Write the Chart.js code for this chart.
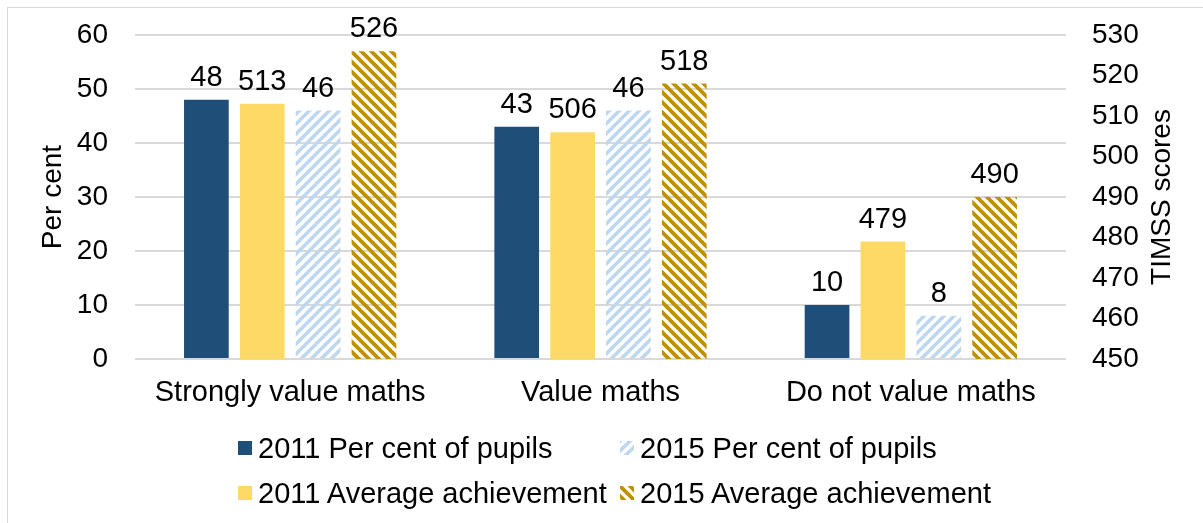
<!DOCTYPE html>
<html>
<head>
<meta charset="utf-8">
<script src="https://cdn.jsdelivr.net/npm/chart.js@4.4.1/dist/chart.umd.min.js"></script>
<style>
  html, body { margin: 0; padding: 0; background: #fff; overflow: hidden; }
  #wrap { position: relative; width: 1203px; height: 523px; }
  #frame { position: absolute; left: 7px; top: 7px; width: 1300px; height: 700px; border: 1px solid #d9d9d9; box-sizing: border-box; }
  #c { position: absolute; left: 0; top: 0; }
  .leg { position: absolute; font: 29px "Liberation Sans", Arial, sans-serif; color: #000; white-space: nowrap; display: flex; align-items: center; }
  .leg canvas { margin-right: 6px; }
</style>
</head>
<body>
<div id="wrap">
  <div id="frame"></div>
  <canvas id="c" width="1203" height="523"></canvas>
  <div id="legend"></div>
</div>
<script>
const categorias = ['Strongly value maths', 'Value maths', 'Do not value maths'];
const pct2011 = [48, 43, 10];
const media2011 = [513, 506, 479];
const pct2015 = [46, 46, 8];
const media2015 = [526, 518, 490];

const FONTE = '"Liberation Sans", Arial, sans-serif';

// listras diagonais
function listras(cor, sobe, espessura) {
    const t = 10;
    const c = document.createElement('canvas');
    c.width = t; c.height = t;
    const g = c.getContext('2d');
    g.strokeStyle = cor;
    g.lineWidth = espessura;
    g.beginPath();
    for (let k = -1; k <= 1; k++) {
        if (sobe) {
            g.moveTo(k * t - 1, t + 1); g.lineTo(k * t + t + 1, -1);
        } else {
            g.moveTo(k * t - 1, -1); g.lineTo(k * t + t + 1, t + 1);
        }
    }
    g.stroke();
    return g.createPattern(c, 'repeat');
}

const ctx = document.getElementById('c').getContext('2d');
const azulClaro = listras('#bdd7ee', true, 3.6);
const dourado = listras('#bf9000', false, 3.8);

const series = [
    { label: '2011 Per cent of pupils', data: pct2011, backgroundColor: '#1f4e79', yAxisID: 'y' },
    { label: '2011 Average achievement', data: media2011, backgroundColor: '#ffd966', yAxisID: 'y2' },
    { label: '2015 Per cent of pupils', data: pct2015, backgroundColor: azulClaro, yAxisID: 'y' },
    { label: '2015 Average achievement', data: media2015, backgroundColor: dourado, yAxisID: 'y2' }
];

const rotulos = {
    id: 'rotulos',
    afterDatasetsDraw(chart) {
        const c = chart.ctx;
        c.save();
        c.font = '29px ' + FONTE;
        c.fillStyle = '#000';
        c.textAlign = 'center';
        c.textBaseline = 'alphabetic';
        chart.data.datasets.forEach((ds, i) => {
            chart.getDatasetMeta(i).data.forEach((bar, j) => {
                c.fillText(ds.data[j], bar.x, bar.y - 14);
            });
        });
        c.restore();
    }
};

const titulos = {
    id: 'titulos',
    afterDraw(chart) {
        const c = chart.ctx;
        const meio = (chart.chartArea.top + chart.chartArea.bottom) / 2;
        c.save();
        c.font = '28px ' + FONTE;
        c.fillStyle = '#000';
        c.textAlign = 'center';
        c.textBaseline = 'middle';
        [[53, 'Per cent'], [1162, 'TIMSS scores']].forEach(([x, txt]) => {
            c.save();
            c.translate(x, meio);
            c.rotate(-Math.PI / 2);
            c.fillText(txt, 0, 0);
            c.restore();
        });
        c.restore();
    }
};

new Chart(ctx, {
    type: 'bar',
    data: {
        labels: categorias,
        datasets: series.map(s => Object.assign({ categoryPercentage: 0.72, barPercentage: 0.8 }, s))
    },
    options: {
        responsive: false,
        animation: false,
        layout: { padding: { left: 8, right: 0, top: 35, bottom: 104 } },
        plugins: { legend: { display: false }, tooltip: { enabled: false } },
        scales: {
            x: {
                grid: { display: false, drawTicks: false },
                border: { display: false },
                ticks: { font: { family: FONTE, size: 29 }, color: '#000', padding: 17 },
                afterFit: s => { s.height = 60; s.paddingLeft = 0; s.paddingRight = 0; }
            },
            y: {
                position: 'left',
                min: 0, max: 60,
                ticks: { stepSize: 10, font: { family: FONTE, size: 28 }, color: '#000', padding: 27 },
                grid: { color: '#d9d9d9', lineWidth: 2, drawTicks: false },
                border: { display: false },
                afterFit: s => { s.width = 127; s.paddingTop = 0; s.paddingBottom = 0; }
            },
            y2: {
                position: 'right',
                min: 450, max: 530,
                ticks: { stepSize: 10, font: { family: FONTE, size: 28 }, color: '#000', padding: 26 },
                grid: { display: false, drawTicks: false },
                border: { display: false },
                afterFit: s => { s.width = 137; s.paddingTop = 0; s.paddingBottom = 0; }
            }
        }
    },
    plugins: [rotulos, titulos]
});

// legenda em duas colunas
const legenda = document.getElementById('legend');
const posicoes = [[238, 448], [238, 493], [620, 448], [620, 493]];
series.forEach((s, i) => {
    const d = document.createElement('div');
    d.className = 'leg';
    const sw = document.createElement('canvas');
    sw.width = 14; sw.height = 14;
    const g = sw.getContext('2d');
    g.fillStyle = s.backgroundColor;
    g.fillRect(0, 0, 14, 14);
    d.appendChild(sw);
    d.appendChild(document.createTextNode(s.label));
    d.style.left = posicoes[i][0] + 'px';
    d.style.top = (posicoes[i][1] - 17) + 'px';
    d.style.height = '34px';
    legenda.appendChild(d);
});
</script>
</body>
</html>
